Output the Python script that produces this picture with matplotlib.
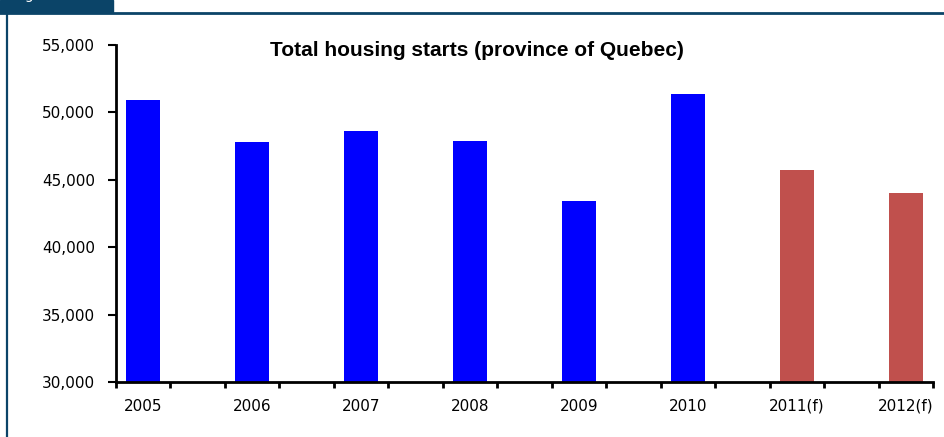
import matplotlib.pyplot as plt
from matplotlib.patches import Rectangle
from matplotlib.lines import Line2D
from matplotlib.ticker import FuncFormatter

years = ['2005', '2006', '2007', '2008', '2009', '2010', '2011(f)', '2012(f)']
starts = [50900, 47800, 48600, 47900, 43400, 51400, 45700, 44000]
forecast = [False, False, False, False, False, False, True, True]

frame_col = '#0b4468'

fig = plt.figure(figsize=(9.45, 4.37), dpi=100)
ax = fig.add_axes([116 / 945, 1 - 382 / 437, (933 - 116) / 945, (382 - 45) / 437])

# bars sit every 2 units, half a unit in from each boundary
pos = [0.5 + 2 * i for i in range(len(years))]
cols = ['#C0504D' if f else '#0000FF' for f in forecast]
ax.bar(pos, starts, width=0.62, color=cols, bottom=0)

ax.set_xlim(0, 15)
ax.set_ylim(30000, 55000)
ax.set_yticks(range(30000, 55001, 5000))
ax.yaxis.set_major_formatter(FuncFormatter(lambda v, p: f'{int(v):,}'))

ax.set_xticks(pos)
ax.set_xticklabels(years)
ax.set_xticks(range(0, 16), minor=True)
ax.tick_params(axis='x', which='major', length=0, pad=12, labelsize=11)
ax.tick_params(axis='x', which='minor', length=4, width=2, direction='out')
ax.tick_params(axis='y', length=6, width=1.5, pad=9, labelsize=11)

for s in ['top', 'right']:
    ax.spines[s].set_visible(False)
for s in ['left', 'bottom']:
    ax.spines[s].set_linewidth(2)

fig.text(477 / 945, 1 - 50 / 437, 'Total housing starts (province of Quebec)',
         ha='center', va='center', fontsize=15, fontweight='bold',
         family='Liberation Sans')

# figure frame: tab, top rule, left rule
fig.patches.append(Rectangle((0, 1 - 12 / 437), 113 / 945, 12 / 437,
                             transform=fig.transFigure, color=frame_col))
fig.lines.append(Line2D([0, 1], [1 - 12.5 / 437] * 2, transform=fig.transFigure,
                        color=frame_col, lw=2))
fig.lines.append(Line2D([7 / 945] * 2, [0, 1 - 12 / 437], transform=fig.transFigure,
                        color=frame_col, lw=1.6))
fig.text(14 / 945, 1 + 1 / 437, 'Figure 1', color='white', fontsize=10,
         va='baseline', ha='left')

fig.savefig('out.png', dpi=100)
